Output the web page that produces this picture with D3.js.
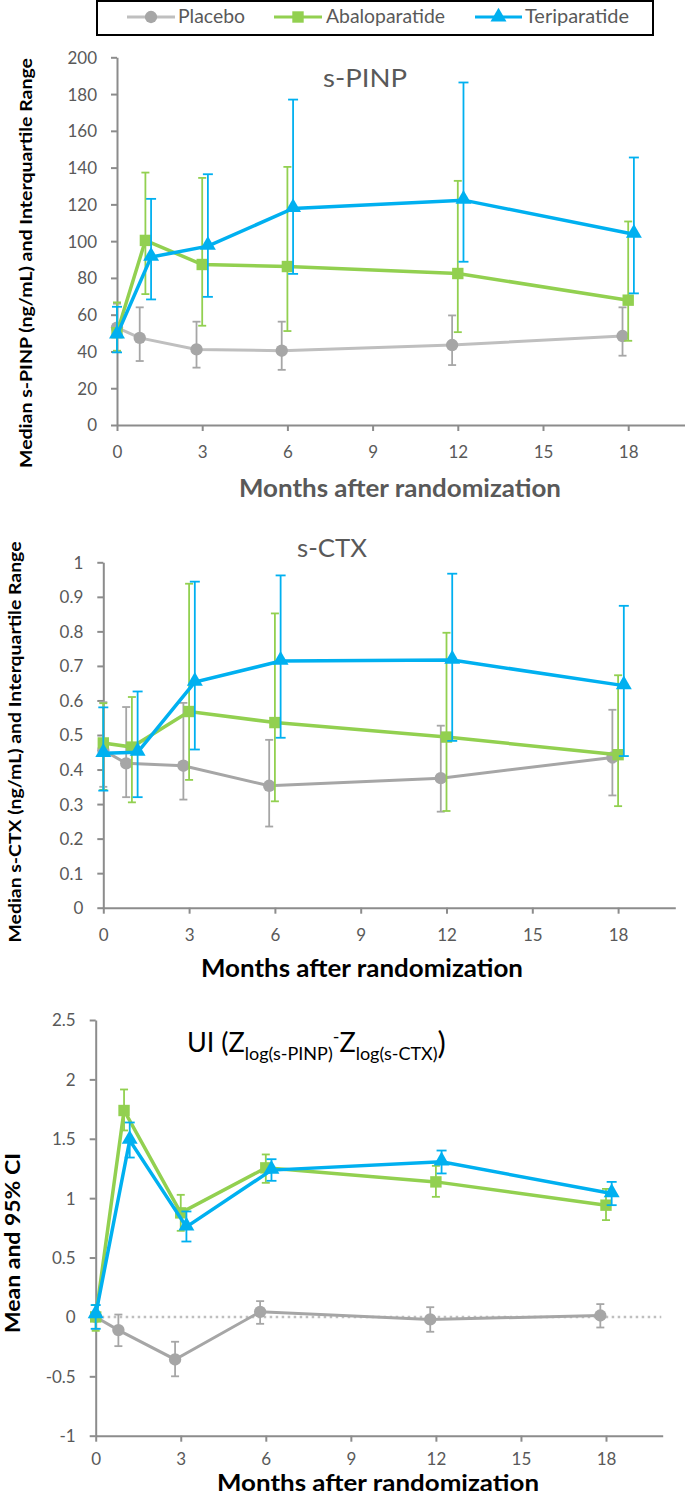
<!DOCTYPE html>
<html>
<head>
<meta charset="UTF-8">
<title>s-PINP, s-CTX and UI</title>
<script src="https://d3js.org/d3.v7.min.js"></script>
<style>
    body { margin: 0; background: #fff; }
    svg text { font-family: Lato, "Open Sans", sans-serif; }
    .axis path, .axis line { stroke: #8c8c8c; stroke-width: 2; fill: none; }
    .axis text { font-size: 17px; fill: #595959; }
</style>
</head>
<body>
<script>
    var width = 685, height = 1498;

    // x positions (months) per series, as plotted (small offsets so bars don't overlap)
    var placeboX = [0, 0.8, 2.8, 5.8, 11.8, 17.8];
    var abaloX = [0, 1, 3, 6, 12, 18];
    var teriX = [0, 1.2, 3.2, 6.2, 12.2, 18.2];
    var xTicks = [0, 3, 6, 9, 12, 15, 18];

    // s-PINP median and IQR (ng/mL)
    var pinpPlacebo = [53, 47.4, 41.1, 40.4, 43.5, 48.4];
    var pinpPlaceboLo = [40, 34.8, 31.2, 30, 32.6, 37.7];
    var pinpPlaceboHi = [66, 64, 56.2, 56.2, 59.6, 64];
    var pinpAbalo = [50.2, 100.4, 87.3, 86.2, 82.4, 67.9];
    var pinpAbaloLo = [40.4, 71.2, 54, 51.1, 50.5, 45.8];
    var pinpAbaloHi = [66.7, 137.3, 134.4, 140.4, 132.8, 110.7];
    var pinpTeri = [49, 91.3, 97.3, 117.8, 122.3, 103.8];
    var pinpTeriLo = [39.5, 68.3, 69.7, 82.2, 88.8, 71.6];
    var pinpTeriHi = [64.3, 123, 136.4, 177, 186.3, 145.5];
    var pinpTicks = [0, 20, 40, 60, 80, 100, 120, 140, 160, 180, 200];

    // s-CTX median and IQR (ng/mL)
    var ctxPlacebo = [0.456, 0.418, 0.411, 0.353, 0.375, 0.435];
    var ctxPlaceboLo = [0.35, 0.32, 0.313, 0.235, 0.278, 0.325];
    var ctxPlaceboHi = [0.595, 0.581, 0.593, 0.486, 0.527, 0.573];
    var ctxAbalo = [0.477, 0.465, 0.568, 0.536, 0.494, 0.443];
    var ctxAbaloLo = [0.341, 0.305, 0.37, 0.308, 0.28, 0.294];
    var ctxAbaloHi = [0.592, 0.61, 0.938, 0.852, 0.796, 0.673];
    var ctxTeri = [0.447, 0.45, 0.653, 0.714, 0.717, 0.643];
    var ctxTeriLo = [0.339, 0.32, 0.458, 0.492, 0.483, 0.439];
    var ctxTeriHi = [0.58, 0.626, 0.944, 0.962, 0.967, 0.874];
    var ctxTicks = [0, 0.1, 0.2, 0.3, 0.4, 0.5, 0.6, 0.7, 0.8, 0.9, 1];

    // UI mean and 95% CI
    var uiPlacebo = [0, -0.111, -0.358, 0.043, -0.021, 0.012];
    var uiPlaceboLo = [-0.1, -0.246, -0.5, -0.058, -0.125, -0.089];
    var uiPlaceboHi = [0.1, 0.02, -0.209, 0.133, 0.082, 0.108];
    var uiAbalo = [0, 1.738, 0.876, 1.255, 1.137, 0.941];
    var uiAbaloLo = [-0.117, 1.57, 0.725, 1.129, 1.011, 0.815];
    var uiAbaloHi = [0.1, 1.915, 1.028, 1.368, 1.272, 1.078];
    var uiTeri = [0.02, 1.488, 0.758, 1.236, 1.306, 1.039];
    var uiTeriLo = [-0.1, 1.342, 0.635, 1.146, 1.208, 0.941];
    var uiTeriHi = [0.1, 1.637, 0.888, 1.328, 1.401, 1.137];
    var uiTicks = [-1, -0.5, 0, 0.5, 1, 1.5, 2, 2.5];

    var seriesNames = ["Placebo", "Abaloparatide", "Teriparatide"];
    var colors = { Placebo: "#a6a6a6", Abaloparatide: "#92d050", Teriparatide: "#00b0f0" };
    var shapes = { Placebo: d3.symbolCircle, Abaloparatide: d3.symbolSquare, Teriparatide: d3.symbolTriangle };
    var symSize = { Placebo: 120, Abaloparatide: 130, Teriparatide: 110 };

    var svg = d3.select("body").append("svg")
        .attr("width", width)
        .attr("height", height);

    function zip(xs, ys, lo, hi) {
        return xs.map(function (x, i) { return { x: x, y: ys[i], lo: lo[i], hi: hi[i] }; });
    }

    function drawPanel(p) {
        var x = d3.scaleLinear().domain([0, 20]).range([p.left, p.right]);
        var y = d3.scaleLinear().domain(p.yDomain).range([p.bottom, p.top]);
        var g = svg.append("g");

        var yAxis = g.append("g").attr("class", "axis")
            .attr("transform", "translate(" + p.left + ",0)")
            .call(d3.axisLeft(y).tickValues(p.yTicks).tickSize(6).tickSizeOuter(0)
                .tickFormat(function (d) { return String(d); }));
        yAxis.selectAll("text").attr("x", -20).attr("dy", "0.35em");

        var xAxis = g.append("g").attr("class", "axis")
            .attr("transform", "translate(0," + y(p.yDomain[0]) + ")")
            .call(d3.axisBottom(x).tickValues(xTicks).tickSize(6).tickSizeOuter(0));
        xAxis.selectAll("text").attr("y", p.xLabelY || 33).attr("dy", null);

        if (p.zeroLine) {
            g.append("line")
                .attr("x1", p.left).attr("x2", x(19.95))
                .attr("y1", y(0)).attr("y2", y(0))
                .attr("stroke", "#bfbfbf").attr("stroke-width", 2.5)
                .attr("stroke-dasharray", "2.5,3.5");
        }

        p.series.forEach(function (s) {
            var c = colors[s.name];
            var lineColor = s.name === "Placebo" ? p.placeboLine : c;
            var cap = s.name === "Teriparatide" ? 5 : 4;
            var sg = g.append("g");
            var eb = sg.selectAll(".eb").data(s.data).enter().append("g")
                .attr("stroke", c).attr("stroke-width", 1.8);
            eb.append("line")
                .attr("x1", function (d) { return x(d.x); }).attr("x2", function (d) { return x(d.x); })
                .attr("y1", function (d) { return y(d.lo); }).attr("y2", function (d) { return y(d.hi); });
            eb.append("line")
                .attr("x1", function (d) { return x(d.x) - cap; }).attr("x2", function (d) { return x(d.x) + cap; })
                .attr("y1", function (d) { return y(d.lo); }).attr("y2", function (d) { return y(d.lo); });
            eb.append("line")
                .attr("x1", function (d) { return x(d.x) - cap; }).attr("x2", function (d) { return x(d.x) + cap; })
                .attr("y1", function (d) { return y(d.hi); }).attr("y2", function (d) { return y(d.hi); });

            sg.append("path")
                .datum(s.data)
                .attr("fill", "none")
                .attr("stroke", lineColor)
                .attr("stroke-width", s.name === "Placebo" ? 3 : 3.5)
                .attr("d", d3.line().x(function (d) { return x(d.x); }).y(function (d) { return y(d.y); }));

            sg.selectAll(".mk").data(s.data).enter().append("path")
                .attr("transform", function (d) {
                    var dy = s.name === "Teriparatide" ? -1 : 0;
                    return "translate(" + x(d.x) + "," + (y(d.y) + dy) + ")";
                })
                .attr("d", d3.symbol().type(shapes[s.name]).size(symSize[s.name]))
                .attr("fill", c);
        });

        // panel title
        if (p.title) {
            g.append("text")
                .attr("x", p.titleX).attr("y", p.titleY)
                .attr("textLength", p.titleW).attr("lengthAdjust", "spacingAndGlyphs")
                .style("font-size", "25px").style("fill", "#595959")
                .text(p.title);
        }

        // x axis title
        g.append("text")
            .attr("x", p.xTitleX).attr("y", p.xTitleY)
            .attr("textLength", 322).attr("lengthAdjust", "spacingAndGlyphs")
            .style("font-size", p.xTitleSize || "25px").style("font-weight", "bold")
            .style("fill", p.xTitleColor)
            .text("Months after randomization");

        // y axis title
        g.append("text")
            .attr("transform", "translate(" + p.yTitleX + "," + p.yTitleY + ") rotate(-90)")
            .attr("text-anchor", "middle")
            .attr("dy", "0.35em")
            .attr("textLength", p.yTitleW).attr("lengthAdjust", "spacingAndGlyphs")
            .style("font-size", p.yTitleSize).style("font-weight", "bold")
            .style("fill", "#000")
            .text(p.yTitle);
        return g;
    }

    drawPanel({
        left: 117, right: 685, top: 57.3, bottom: 425,
        yDomain: [0, 200], yTicks: pinpTicks,
        placeboLine: "#bfbfbf",
        series: [
            { name: "Placebo", data: zip(placeboX, pinpPlacebo, pinpPlaceboLo, pinpPlaceboHi) },
            { name: "Abaloparatide", data: zip(abaloX, pinpAbalo, pinpAbaloLo, pinpAbaloHi) },
            { name: "Teriparatide", data: zip(teriX, pinpTeri, pinpTeriLo, pinpTeriHi) }
        ],
        title: "s-PINP", titleX: 323, titleY: 87, titleW: 84,
        xTitleX: 239, xTitleY: 497, xTitleColor: "#595959",
        yTitle: "Median s-PINP (ng/mL) and Interquartile Range",
        yTitleX: 26, yTitleY: 263, yTitleW: 410, yTitleSize: "17px"
    });

    drawPanel({
        left: 103.3, right: 675.3, top: 562.3, bottom: 907.7,
        yDomain: [0, 1], yTicks: ctxTicks,
        placeboLine: "#a6a6a6",
        series: [
            { name: "Placebo", data: zip(placeboX, ctxPlacebo, ctxPlaceboLo, ctxPlaceboHi) },
            { name: "Abaloparatide", data: zip(abaloX, ctxAbalo, ctxAbaloLo, ctxAbaloHi) },
            { name: "Teriparatide", data: zip(teriX, ctxTeri, ctxTeriLo, ctxTeriHi) }
        ],
        title: "s-CTX", titleX: 297, titleY: 557, titleW: 70,
        xTitleX: 201, xTitleY: 977, xTitleColor: "#000",
        yTitle: "Median s-CTX (ng/mL) and Interquartile Range",
        yTitleX: 15, yTitleY: 742, yTitleW: 401, yTitleSize: "17px"
    });

    drawPanel({
        left: 95.7, right: 662.7, top: 1020, bottom: 1435.7,
        yDomain: [-1, 2.5], yTicks: uiTicks,
        placeboLine: "#a6a6a6", zeroLine: true,
        series: [
            { name: "Placebo", data: zip(placeboX, uiPlacebo, uiPlaceboLo, uiPlaceboHi) },
            { name: "Abaloparatide", data: zip(abaloX, uiAbalo, uiAbaloLo, uiAbaloHi) },
            { name: "Teriparatide", data: zip(teriX, uiTeri, uiTeriLo, uiTeriHi) }
        ],
        xLabelY: 29,
        xTitleX: 217, xTitleY: 1491, xTitleColor: "#000", xTitleSize: "22px",
        yTitle: "Mean and 95% CI",
        yTitleX: 13, yTitleY: 1243, yTitleW: 180, yTitleSize: "21px"
    });

    // UI title with subscripts
    var ui = svg.append("text").attr("x", 187).attr("y", 1052)
        .style("font-size", "27px").style("fill", "#000");
    ui.append("tspan").text("UI (Z");
    ui.append("tspan").attr("y", 1060).style("font-size", "18px").text("log(s-PINP)");
    ui.append("tspan").attr("y", 1043).style("font-size", "18px").text("-");
    ui.append("tspan").attr("y", 1052).text("Z");
    ui.append("tspan").attr("y", 1060).style("font-size", "18px").text("log(s-CTX)");
    ui.append("tspan").attr("y", 1054).style("font-size", "31px").text(")");

    // legend
    var legend = svg.append("g");
    legend.append("rect")
        .attr("x", 97).attr("y", 1).attr("width", 556).attr("height", 34)
        .attr("fill", "#fff").attr("stroke", "#000").attr("stroke-width", 2);
    var legendItems = [
        { name: "Placebo", x1: 127, x2: 175, tx: 178, tw: 67 },
        { name: "Abaloparatide", x1: 274, x2: 322, tx: 326, tw: 119 },
        { name: "Teriparatide", x1: 475, x2: 522, tx: 525, tw: 104 }
    ];
    legendItems.forEach(function (it) {
        var c = colors[it.name];
        legend.append("line")
            .attr("x1", it.x1).attr("x2", it.x2).attr("y1", 17).attr("y2", 17)
            .attr("stroke", it.name === "Placebo" ? "#bfbfbf" : c).attr("stroke-width", 3);
        legend.append("path")
            .attr("transform", "translate(" + ((it.x1 + it.x2) / 2) + ",17)")
            .attr("d", d3.symbol().type(shapes[it.name]).size(symSize[it.name]))
            .attr("fill", c);
        legend.append("text")
            .attr("x", it.tx).attr("y", 23)
            .attr("textLength", it.tw).attr("lengthAdjust", "spacingAndGlyphs")
            .style("font-size", "19px").style("fill", "#595959")
            .text(it.name);
    });
</script>
</body>
</html>
